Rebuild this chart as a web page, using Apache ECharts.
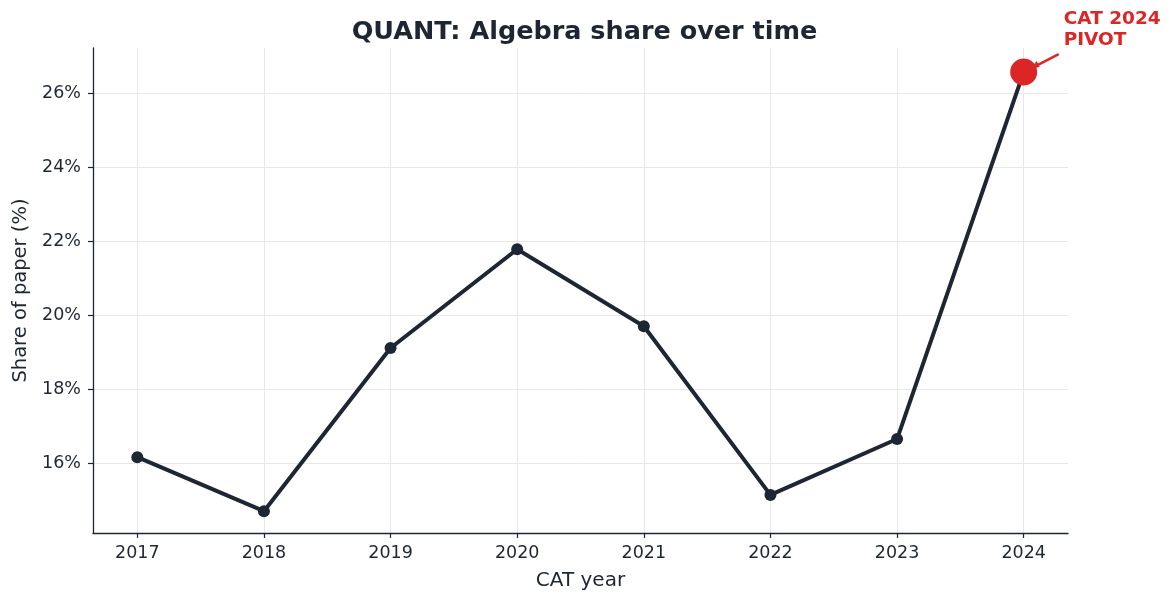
<!DOCTYPE html>
<html>
<head>
<meta charset="utf-8">
<script src="https://cdn.jsdelivr.net/npm/echarts@6/dist/echarts.min.js"></script>
<style>
  html, body { margin: 0; padding: 0; background: #fff; }
  #chart { width: 1169px; height: 594px; }
</style>
</head>
<body>
<div id="chart"></div>
<script>
// Donnees
const annees = [2017, 2018, 2019, 2020, 2021, 2022, 2023, 2024];
const partAlgebre = [16.16, 14.70, 19.11, 21.78, 19.70, 15.14, 16.65, 26.57];
const graduationsY = [16, 18, 20, 22, 24, 26];
const anneePivot = 2024;
const textePivot = "CAT 2024\nPIVOT";

const encre = "#1e2533";
const rouge = "#dc2626";
const police = "DejaVu Sans";

const chart = echarts.init(document.getElementById("chart"));

const pointsLigne = annees.map((a, i) => [a, partAlgebre[i]]);
const pointPivot = [anneePivot, partAlgebre[annees.indexOf(anneePivot)]];

const option = {
    backgroundColor: "#fff",
    animation: false,
    textStyle: { fontFamily: police },
    title: {
        text: "QUANT: Algebra share over time",
        left: "center",
        top: 14,
        textStyle: { fontFamily: police, fontSize: 25.5, fontWeight: "bold", color: encre }
    },
    grid: { left: 93, right: 101, top: 48, bottom: 61, outerBoundsMode: "none", containLabel: false },
    xAxis: {
        type: "value",
        min: 2016.65,
        max: 2024.35,
        name: "CAT year",
        nameLocation: "middle",
        nameGap: 38,
        nameTextStyle: { fontSize: 20, color: encre, fontFamily: police },
        axisLine: { show: true, lineStyle: { color: encre, width: 1.3 } },
        axisTick: { show: true, length: 5, customValues: annees, lineStyle: { color: encre, width: 1.2 } },
        axisLabel: {
            customValues: annees, fontSize: 17.5, color: encre, margin: 11, fontFamily: police,
            formatter: v => String(v)
        },
        splitLine: { show: true, lineStyle: { color: "#e8e8e8", width: 1 } }
    },
    yAxis: {
        type: "value",
        min: 14.11,
        max: 27.22,
        name: "Share of paper (%)",
        nameLocation: "middle",
        nameGap: 62,
        nameTextStyle: { fontSize: 19.5, color: encre, fontFamily: police },
        axisLine: { show: true, lineStyle: { color: encre, width: 1.3 } },
        axisTick: { show: true, length: 5, customValues: graduationsY, lineStyle: { color: encre, width: 1.2 } },
        axisLabel: {
            customValues: graduationsY,
            fontSize: 17.5, color: encre, margin: 12, fontFamily: police,
            formatter: v => v + "%"
        },
        splitLine: { show: true, lineStyle: { color: "#e8e8e8", width: 1 } }
    },
    series: [
        {
            type: "line",
            data: pointsLigne,
            symbol: "circle",
            symbolSize: 12,
            lineStyle: { color: encre, width: 4 },
            itemStyle: { color: encre },
            z: 3
        },
        {
            type: "scatter",
            data: [pointPivot],
            symbol: "circle",
            symbolSize: 27,
            itemStyle: { color: rouge, opacity: 1 },
            z: 5
        }
    ]
};
chart.setOption(option);

// Fleche et texte de l'annotation, places depuis la position du point
const p = chart.convertToPixel({ gridIndex: 0 }, pointPivot);
chart.setOption({
    graphic: [
        {
            type: "line",
            shape: { x1: p[0] + 35, y1: p[1] - 18, x2: p[0] + 10, y2: p[1] - 5 },
            style: { stroke: rouge, lineWidth: 2.5 },
            z: 10
        },
        {
            type: "polygon",
            shape: { points: [[p[0] + 7, p[1] - 3.5], [p[0] + 16, p[1] - 5], [p[0] + 13, p[1] - 11]] },
            style: { fill: rouge },
            z: 10
        },
        {
            type: "text",
            x: p[0] + 40,
            y: p[1] - 63,
            style: {
                text: textePivot,
                fill: rouge,
                font: "bold 18.5px 'DejaVu Sans'",
                lineHeight: 21
            },
            z: 10
        }
    ]
});
</script>
</body>
</html>
